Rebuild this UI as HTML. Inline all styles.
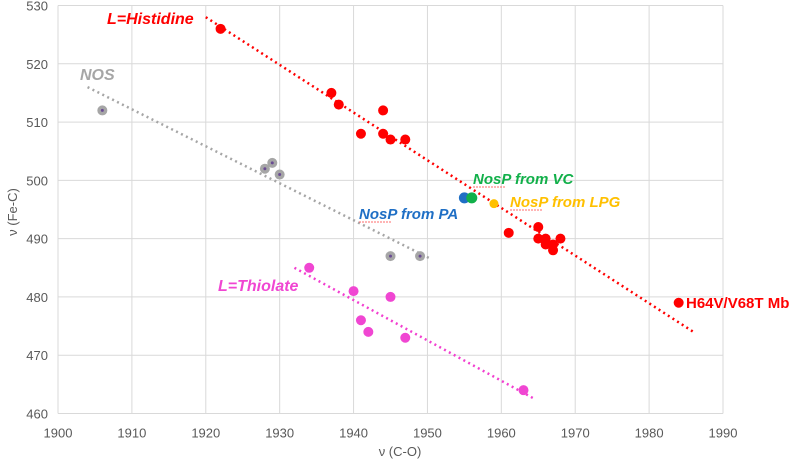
<!DOCTYPE html>
<html><head><meta charset="utf-8"><style>
body{margin:0;background:#fff;width:800px;height:465px;overflow:hidden;font-family:"Liberation Sans",sans-serif}
svg text{font-family:"Liberation Sans",sans-serif}
</style></head><body>
<svg id="chart" width="800" height="465"></svg>
<script>
const xTicks=[1900,1910,1920,1930,1940,1950,1960,1970,1980,1990];
const yTicks=[460,470,480,490,500,510,520,530];
const hisX=[1922,1937,1938,1941,1944,1944,1945,1947,1961,1965,1965,1966,1966,1967,1967,1968,1984];
const hisY=[526,515,513,508,512,508,507,507,491,492,490,490,489,489,488,490,479];
const nosX=[1906,1928,1929,1930,1945,1949];
const nosY=[512,502,503,501,487,487];
const thiX=[1934,1940,1941,1942,1945,1947,1963];
const thiY=[485,481,476,474,480,473,464];
const nospX=[1955,1956,1959];
const nospY=[497,497,496];
const hisTrend=[[1920,528],[1986,474]];
const nosTrend=[[1904,516],[1950.5,486.5]];
const thiTrend=[[1932,485],[1964.5,462.5]];
const NS="http://www.w3.org/2000/svg";
const svg=document.getElementById('chart');
const X0=58,X1=723,Y0=413.5,Y1=5.5;
const sx=v=>X0+(v-1900)/90*(X1-X0);
const sy=v=>Y0-(v-460)/70*(Y0-Y1);
function mk(t,a){const e=document.createElementNS(NS,t);for(const k in a)e.setAttribute(k,a[k]);svg.appendChild(e);return e;}
xTicks.forEach(t=>{
 const l=mk('line',{x1:sx(t),x2:sx(t),y1:Y1,y2:Y0,stroke:'#d9d9d9','stroke-width':1});
 
 
 const tx=mk('text',{x:sx(t),y:Y0+24,'text-anchor':'middle','font-size':13,fill:'#595959'});tx.textContent=t;
 
 
});
yTicks.forEach(t=>{
 const l=mk('line',{x1:X0,x2:X1,y1:sy(t),y2:sy(t),stroke:'#d9d9d9','stroke-width':1});
 
 
 const tx=mk('text',{x:X0-10,y:sy(t)+5,'text-anchor':'end','font-size':13,fill:'#595959'});tx.textContent=t;
 
 
});
function trend(p,c,name){const l=mk('line',{x1:sx(p[0][0]),y1:sy(p[0][1]),x2:sx(p[1][0]),y2:sy(p[1][1]),stroke:c,'stroke-width':2.5,'stroke-dasharray':'2 3.5'});
 
 }
trend(nosTrend,'#a6a6a6','nos-trendline');
trend(thiTrend,'#f23fd0','thiolate-trendline');
trend(hisTrend,'#ff0000','histidine-trendline');
function pts(xs,ys,c,name,inner){xs.forEach((x,i)=>{
 const p=mk('circle',{cx:sx(x),cy:sy(ys[i]),r:5,fill:c});
 
 
 if(inner){mk('circle',{cx:sx(x),cy:sy(ys[i]),r:1.5,fill:'#6a4c93'});}
});}
pts(nosX,nosY,'#a6a6a6','nos-point',true);
pts(thiX,thiY,'#f046d2','thiolate-point');
pts(hisX,hisY,'#ff0000','histidine-point');
const nospC=['#1f6fc5','#12b04a','#ffc000'];
nospX.forEach((x,i)=>{const p=mk('circle',{cx:sx(x),cy:sy(nospY[i]),r:i==2?4.5:5.5,fill:nospC[i]});
 
 });
function lab(x,y,t,c,name,o){const e=mk('text',Object.assign({x:x,y:y,fill:c,'font-size':15,'font-weight':'bold','font-style':'italic'},o||{}));e.textContent=t;
 
 return e;}
function squiggle(x,y,w){const l=mk('line',{x1:x,x2:x+w,y1:y,y2:y,stroke:'#ff6b6b','stroke-width':1,'stroke-dasharray':'2 1'});
 
 }
lab(107,24,'L=Histidine','#ff0000','histidine-label',{'font-size':16});
lab(80,80,'NOS','#a6a6a6','nos-label',{'font-size':16});
lab(359,219,'NosP from PA','#1f6fc5','nosp-pa-label');
squiggle(359,222,33);
lab(473,184,'NosP from VC','#12b04a','nosp-vc-label');
squiggle(473,187,33);
lab(510,207,'NosP from LPG','#ffc000','nosp-lpg-label');
squiggle(510,210,33);
lab(218,291,'L=Thiolate','#f046d2','thiolate-label',{'font-size':16});
lab(686,308,'H64V/V68T Mb','#ff0000','h64v-label',{'font-style':'normal'});
const xt=mk('text',{x:400,y:456,'text-anchor':'middle','font-size':13,fill:'#595959'});xt.textContent='ν (C-O)';


const yt=mk('text',{x:0,y:0,'text-anchor':'middle','font-size':13,fill:'#595959',transform:'translate(17,212) rotate(-90)'});yt.textContent='ν (Fe-C)';


</script>
</body></html>
